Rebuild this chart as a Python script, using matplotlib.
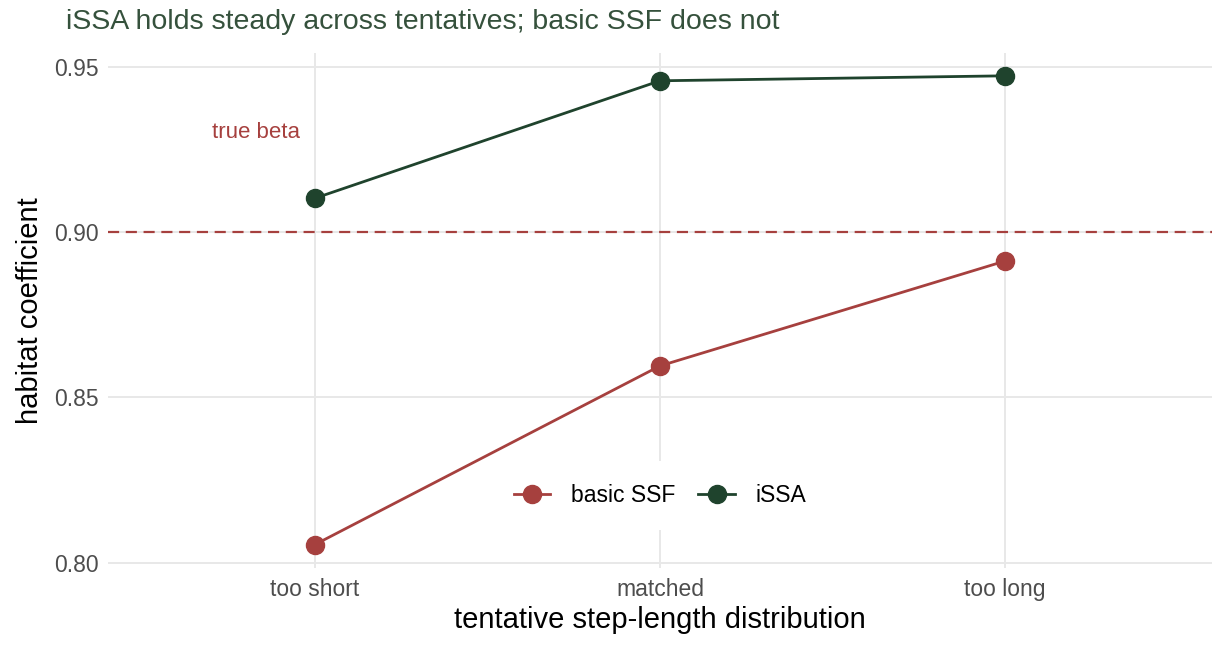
import matplotlib
matplotlib.use("Agg")
from matplotlib import pyplot as plt
import numpy as np

# data
categories = ["too short", "matched", "too long"]
basic_ssf = [0.8055, 0.8595, 0.8912]
issa = [0.9102, 0.9457, 0.9472]
true_beta = 0.90

red = "#A6403E"
green = "#1F432D"

plt.rcParams["font.family"] = ["Liberation Sans", "DejaVu Sans"]

fig = plt.figure(figsize=(12.28, 6.52), dpi=100)
ax = fig.add_axes([108 / 1228, 1 - 568 / 652, 1104 / 1228, 515 / 652])

x = np.arange(len(categories))

# reference line and label
ax.axhline(true_beta, color=red, linestyle=(0, (5, 3)), linewidth=1.6, zorder=2)
ax.text(-0.17, 0.93, "true beta", color=red, fontsize=16, ha="center", va="center")

ax.plot(x, basic_ssf, color=red, linewidth=2.0, marker="o", markersize=13,
        label="basic SSF", zorder=3)
ax.plot(x, issa, color=green, linewidth=2.0, marker="o", markersize=13,
        label="iSSA", zorder=3)

ax.set_xlim(-0.6, 2.6)
ax.set_ylim(0.7984, 0.9541)
ax.set_xticks(x)
ax.set_xticklabels(categories)
ax.set_yticks([0.80, 0.85, 0.90, 0.95])
ax.set_yticklabels(["0.80", "0.85", "0.90", "0.95"])

#Gridlines, minimal style
ax.grid(True, color="#E8E8E8", linewidth=1.4, zorder=0)
ax.set_axisbelow(True)
for s in ax.spines.values():
    s.set_visible(False)
ax.tick_params(length=0, labelsize=16.5, labelcolor="#4D4D4D", pad=7)

ax.set_xlabel("tentative step-length distribution", fontsize=21, labelpad=4)
ax.set_ylabel("habitat coefficient", fontsize=21, labelpad=7)

fig.text(66 / 1228, 1 - 22 / 652, "iSSA holds steady across tentatives; basic SSF does not",
         fontsize=20.5, color="#35513C", ha="left", va="center")

leg = ax.legend(loc="center", bbox_to_anchor=(0.5, 0.14), ncol=2, frameon=True,
                fontsize=16.5, handlelength=1.6, columnspacing=1.0, handletextpad=0.9,
                borderpad=1.0)
leg.get_frame().set_facecolor("white")
leg.get_frame().set_edgecolor("none")
leg.get_frame().set_alpha(1)

fig.savefig("out.png", dpi=100)
